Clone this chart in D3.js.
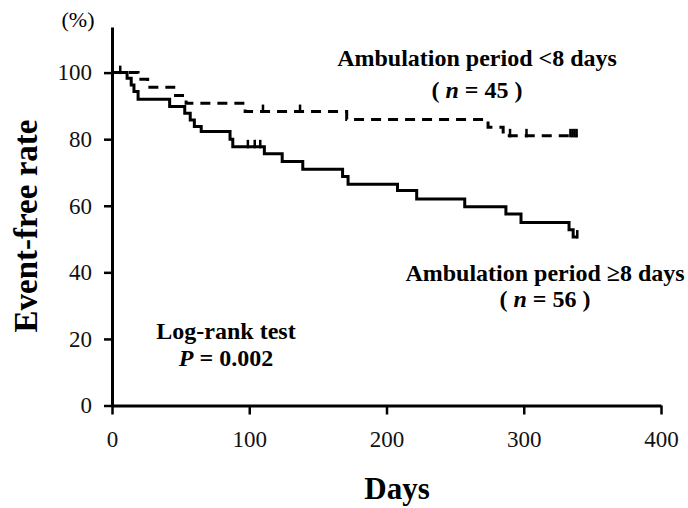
<!DOCTYPE html>
<html>
<head>
<meta charset="utf-8">
<script src="https://cdn.jsdelivr.net/npm/d3@7"></script>
<style>
  body { margin: 0; background: #fff; }
  .axis path, .axis line { stroke: #000; }
  .label { font-family: "Liberation Serif", "Times New Roman", serif; font-weight: bold; fill: #000; }
</style>
</head>
<body>
<div id="chart"></div>
<script>
// Kaplan-Meier steps (day, event-free %)
let longDays   = [0, 11, 14, 16, 19, 42, 53, 57, 60, 65, 86, 88, 111, 124, 139, 168, 172, 208, 222, 257, 287, 298, 333, 336, 339];
let longRate   = [100, 98.3, 96.3, 94.3, 92.0, 89.8, 87.8, 85.8, 83.8, 82.3, 80.0, 77.7, 75.6, 73.3, 71.0, 68.8, 66.5, 64.6, 62.0, 59.7, 57.5, 55.0, 52.8, 50.6, 50.6];
let longCensorDays = [99, 104, 108, 339];
let longCensorRate = [77.7, 77.7, 77.7, 50.6];

let shortDays  = [0, 19, 26, 45, 54, 97, 171, 274, 285, 339];
let shortRate  = [100, 98.0, 95.6, 93.1, 90.8, 88.3, 85.9, 83.6, 81.0, 81.0];
let shortCensorDays = [6, 110, 137, 290, 302, 334, 335.5, 337, 338.5];
let shortCensorRate = [100, 88.3, 88.3, 81.0, 81.0, 81.0, 81.0, 81.0, 81.0];

let xTicks = [0, 100, 200, 300, 400];
let yTicks = [0, 20, 40, 60, 80, 100];

function drawChart(width, height, selector) {

	let svg = d3.select(selector)
		.append("svg")
		.attr("width", width)
		.attr("height", height)
		.style("background", "#fff");

	// scales
	let xPositionScale = d3.scaleLinear()
		.domain([0, 400])
		.range([112, 661]);

	let yPositionScale = d3.scaleLinear()
		.domain([0, 113.7])
		.range([405.5, 27]);

	let line = d3.line()
		.curve(d3.curveStepAfter)
		.x(d => xPositionScale(d[0]))
		.y(d => yPositionScale(d[1]));

	let longData = d3.zip(longDays, longRate);
	let shortData = d3.zip(shortDays, shortRate);

	// axes
	let xAxis = d3.axisBottom(xPositionScale)
		.tickValues(xTicks)
		.tickSize(9)
		.tickSizeOuter(0)
		.tickPadding(16)
		.tickFormat(d3.format("d"));

	svg.append("g")
		.attr("class", "axis x-axis")
		.attr("transform", "translate(0," + yPositionScale(0) + ")")
		.call(xAxis);

	let yAxis = d3.axisLeft(yPositionScale)
		.tickValues(yTicks)
		.tickSize(8)
		.tickSizeOuter(0)
		.tickPadding(12)
		.tickFormat(d3.format("d"));

	svg.append("g")
		.attr("class", "axis y-axis")
		.attr("transform", "translate(" + xPositionScale(0) + ",0)")
		.call(yAxis);

	svg.selectAll(".axis path").attr("stroke-width", 3);
	svg.selectAll(".axis line").attr("stroke-width", 2.5);
	svg.selectAll(".axis text")
		.attr("font-family", "Liberation Serif, Times New Roman, serif")
		.attr("font-size", 23)
		.attr("fill", "#111");

	// curves
	svg.append("path")
		.attr("d", line(shortData))
		.attr("fill", "none")
		.attr("stroke", "#000")
		.attr("stroke-width", 3)
		.attr("stroke-dasharray", "10,7");

	svg.append("path")
		.attr("d", line(longData))
		.attr("fill", "none")
		.attr("stroke", "#000")
		.attr("stroke-width", 3);

	// censor marks
	let censors = d3.zip(longCensorDays, longCensorRate).concat(d3.zip(shortCensorDays, shortCensorRate));
	svg.selectAll(".censor")
		.data(censors)
		.enter().append("line")
		.attr("class", "censor")
		.attr("x1", d => xPositionScale(d[0]))
		.attr("x2", d => xPositionScale(d[0]))
		.attr("y1", d => yPositionScale(d[1]) + 1.5)
		.attr("y2", d => yPositionScale(d[1]) - 7)
		.attr("stroke", "#000")
		.attr("stroke-width", 2.5);

	// labels
	svg.append("text")
		.attr("class", "label")
		.attr("x", 78).attr("y", 27)
		.attr("text-anchor", "middle")
		.attr("font-size", 22)
		.style("font-weight", "normal")
		.text("(%)");

	svg.append("text")
		.attr("class", "label")
		.attr("transform", "translate(37,226) rotate(-90)")
		.attr("text-anchor", "middle")
		.attr("font-size", 33)
		.text("Event-free rate");

	svg.append("text")
		.attr("class", "label")
		.attr("x", 397).attr("y", 499)
		.attr("text-anchor", "middle")
		.attr("font-size", 31)
		.text("Days");

	function twoLines(x, y1, y2, first, pre, ital, post) {
		svg.append("text")
			.attr("class", "label")
			.attr("x", x).attr("y", y1)
			.attr("text-anchor", "middle")
			.attr("font-size", 24)
			.text(first);
		let t = svg.append("text")
			.attr("class", "label")
			.attr("x", x).attr("y", y2)
			.attr("text-anchor", "middle")
			.attr("font-size", 24);
		t.append("tspan").text(pre);
		t.append("tspan").attr("font-style", "italic").text(ital);
		t.append("tspan").text(post);
	}

	twoLines(477, 66, 98, "Ambulation period <8 days", "( ", "n", " = 45 )");
	twoLines(545, 281, 307, "Ambulation period \u22658 days", "( ", "n", " = 56 )");
	twoLines(226, 339, 366, "Log-rank test", "", "P", " = 0.002");
}

drawChart(688, 508, "#chart");
</script>
</body>
</html>
